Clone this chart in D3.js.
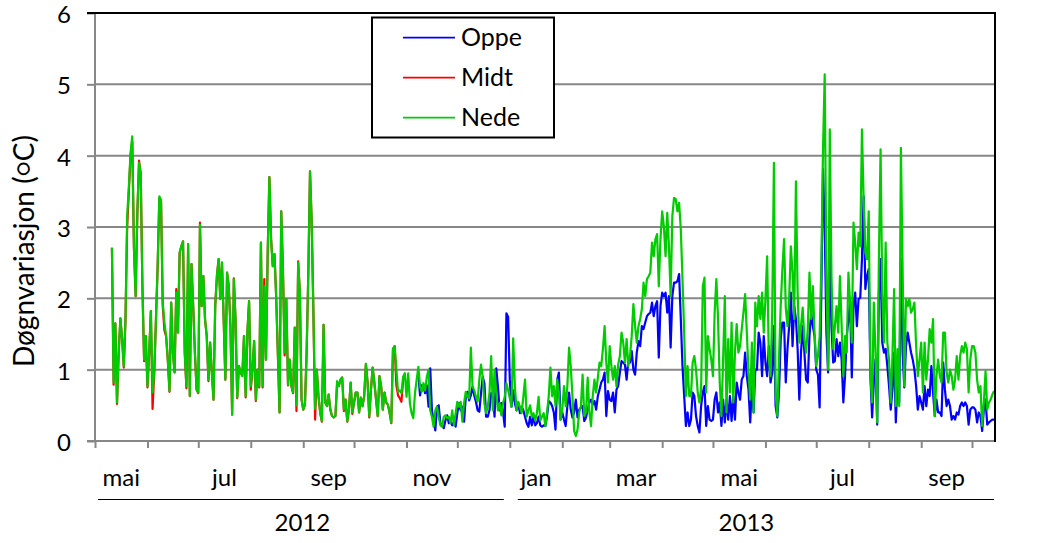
<!DOCTYPE html>
<html><head><meta charset="utf-8">
<script src="https://cdn.jsdelivr.net/npm/d3@7"></script>
<style>
body{margin:0;background:#fff;}
svg{display:block;font-family:Lato, "Open Sans", sans-serif;}
</style>
</head><body>
<svg id="chart" width="1039" height="543"></svg>
<script>
// ---------------- DATA ----------------
const seriesNames = ["Oppe", "Midt", "Nede"];
const yTicks = [0, 1, 2, 3, 4, 5, 6];
const monthLabels = ["mai", "jul", "sep", "nov", "jan", "mar", "mai", "jul", "sep"];
const yearLabels = ["2012", "2013"];
const yTitle = "Døgnvariasjon (";
const nedeStart = "2012-05-11";
const midtStart = "2012-05-11";
const oppeStart = "2012-11-08";

// daily values, Nede (from 2012-05-11)
const nede = [
2.71,0.82,1.65,0.54,1.24,1.72,1.43,1.05,1.7,3.15,
3.57,4.04,4.27,2.73,2.03,3.2,3.9,3.76,2.17,1.14,
1.47,0.77,1.24,1.82,0.68,0.96,1.7,2.45,3.43,3.38,
1.94,1.66,1.47,1.14,0.7,1.94,1.24,0.96,2.08,1.52,
2.64,2.73,2.8,1.24,0.77,2.76,0.63,2.48,1.89,1.24,
0.72,0.68,3.03,1.89,2.31,1.7,1.47,0.86,1.38,0.96,
0.58,1.89,2.31,2.55,1.99,2.5,1.7,0.86,2.36,2.17,
1.61,0.37,2.27,1.7,0.61,1.05,0.96,0.91,1.47,
0.63,1.52,1.96,0.77,1.0,1.4,0.58,1.0,0.77,2.78,
0.77,2.17,1.14,2.64,3.7,2.83,2.45,2.62,2.03,1.24,
0.4,3.22,2.41,1.24,1.99,0.79,1.14,0.77,0.68,1.59,
0.5,2.5,2.08,0.58,0.44,0.51,1.24,2.36,3.78,3.06,
1.8,0.45,1.0,0.63,0.4,0.28,1.63,0.54,0.49,0.65,
0.44,0.35,0.33,0.35,0.84,0.77,0.86,0.89,0.44,0.58,
0.28,0.44,0.82,0.4,0.54,0.68,0.68,0.4,0.61,0.49,
0.63,1.08,0.82,0.35,0.72,1.03,0.82,0.58,0.35,0.91,
0.77,0.44,0.68,0.54,0.51,0.4,0.26,1.29,1.33,
1.0,0.69,0.71,0.67,0.9,0.95,0.62,0.95,0.53,0.39,
0.32,0.67,0.86,1.04,0.76,0.69,0.81,0.71,0.9,1.0,
0.43,0.34,0.2,0.43,0.48,0.34,0.22,0.2,0.34,0.36,
0.32,0.34,0.25,0.43,0.22,0.39,0.55,0.48,0.55,0.27,
0.53,0.69,0.62,0.6,1.31,0.76,0.71,0.62,0.55,0.86,
1.07,0.9,0.53,0.39,0.48,0.67,1.19,0.43,1.0,0.67,
0.43,0.53,0.36,0.53,0.62,0.81,0.71,0.6,0.48,1.44,
0.76,0.43,0.55,0.48,0.39,0.62,0.86,0.34,0.43,0.5,
0.34,0.39,0.29,0.39,0.62,0.29,0.34,0.39,
0.21,0.4,0.63,1.03,0.63,0.77,0.49,0.86,0.68,0.3,
0.44,0.77,0.49,0.77,1.31,1.05,0.63,0.14,0.07,0.16,
0.4,0.49,0.93,0.35,0.4,0.89,0.4,0.21,0.63,0.86,
0.68,0.89,1.1,1.05,1.29,1.61,1.1,0.82,1.33,1.05,
0.86,1.05,0.77,1.07,1.19,1.52,1.38,1.1,1.43,1.05,
1.19,1.47,1.92,1.61,1.38,1.61,1.71,1.85,2.22,2.03,
2.27,2.31,2.36,2.78,2.59,2.83,2.9,2.17,2.83,3.22,
3.01,2.59,3.2,2.73,2.03,3.15,3.41,3.39,3.22,3.34,
2.97,2.27,1.52,0.63,1.05,0.63,0.63,1.1,1.19,
1.0,0.68,0.54,0.72,2.17,2.29,0.68,1.47,1.29,1.14,
0.91,1.8,2.27,1.71,0.82,0.35,1.14,2.03,0.4,1.43,
0.68,1.66,0.54,1.24,1.64,1.24,1.33,1.57,1.8,2.06,
1.52,0.96,0.58,1.38,0.4,1.94,1.61,2.03,1.71,2.08,
1.52,1.99,2.59,1.14,0.91,1.8,3.9,0.68,0.35,1.14,
1.89,2.41,2.83,1.87,1.61,1.99,2.73,2.36,1.71,3.64,
2.08,1.38,1.61,1.87,1.43,1.24,1.57,2.36,1.71,2.17,
1.52,1.05,1.19,1.47,2.45,4.09,5.14,2.31,1.0,4.37,
2.31,1.29,1.61,1.89,1.52,2.31,1.61,0.91,
1.47,1.24,2.36,1.94,1.38,3.06,2.78,2.41,2.92,2.73,
4.37,3.39,2.64,2.55,3.22,0.91,0.54,1.94,1.24,0.26,
2.55,4.09,2.08,1.38,2.78,1.38,1.14,0.54,1.19,2.13,
0.49,1.29,0.49,4.11,2.45,0.77,1.99,1.89,1.99,1.8,
1.85,1.94,1.33,0.91,1.14,1.38,0.68,1.38,0.86,1.14,
1.57,1.38,1.71,0.35,0.91,1.14,0.91,0.82,1.52,1.52,
0.96,0.82,1.0,0.91,0.72,0.86,1.19,0.86,1.19,1.33,
1.24,1.38,1.29,0.68,1.14,1.33,1.33,1.24,0.86,0.68,
0.77,0.21,0.54,0.98,0.44,0.54,0.58,0.65,0.7
];

// daily values, Midt (from 2012-05-11)
const midt = [
2.71,0.79,1.65,0.52,1.24,1.72,1.43,1.03,1.7,3.0,
3.5,4.0,4.2,2.7,2.03,3.18,3.93,3.74,2.17,1.12,
1.47,0.75,1.24,1.82,0.45,0.96,1.7,2.45,3.4,3.36,
1.9,1.55,1.47,1.14,0.69,1.94,1.24,0.96,2.13,1.52,
2.64,2.73,2.8,1.24,0.74,2.76,0.63,2.48,1.89,1.24,
0.72,0.67,3.06,1.89,2.31,1.7,1.47,0.84,1.38,0.96,
0.58,1.89,2.31,2.55,1.99,2.5,1.7,0.86,2.36,2.17,
1.61,0.37,2.28,1.7,0.6,1.05,0.96,0.91,1.47,
0.61,1.52,1.96,0.72,1.0,1.4,0.56,1.0,0.75,2.78,
0.75,2.27,1.14,2.64,3.7,2.83,2.45,2.62,2.03,1.22,
0.4,3.22,2.41,1.2,1.99,0.78,1.14,0.77,0.67,1.59,
0.42,2.52,2.08,0.58,0.44,0.51,1.24,2.36,3.78,3.06,
1.8,0.3,1.0,0.63,0.4,0.27,1.63,0.54,0.49,0.65,
0.44,0.35,0.33,0.35,0.8,0.77,0.86,0.89,0.42,0.58,
0.27,0.44,0.82,0.38,0.54,0.68,0.68,0.4,0.61,0.49,
0.63,1.08,0.82,0.33,0.72,1.03,0.82,0.58,0.35,0.91,
0.77,0.44,0.68,0.54,0.51,0.4,0.25,1.29,1.33,
0.78,0.64,0.6,0.55,0.85,0.9
];

// daily values, Oppe (from 2012-11-08)
const oppe = [
0.93,0.64,0.78,0.76,0.67,0.78,0.48,1.02,0.43,0.29,
0.15,0.48,0.5,0.25,0.22,0.18,0.29,0.36,0.25,0.27,
0.22,0.27,0.2,0.39,0.53,0.43,0.48,0.27,0.62,0.69,
0.57,0.64,0.76,0.64,0.55,0.43,0.41,0.67,0.9,0.81,
0.34,0.34,0.43,0.67,0.64,0.34,1.02,0.76,0.43,0.53,
0.41,0.2,1.79,1.74,0.86,0.48,0.71,0.53,0.43,0.53,
0.39,0.48,0.43,0.34,0.25,0.2,0.34,0.22,0.34,0.22,
0.25,0.34,0.22,0.2,0.22,
0.21,0.35,0.56,0.54,0.49,0.4,0.16,0.86,0.96,0.3,
0.4,0.3,0.21,0.49,0.68,0.44,0.33,0.4,0.58,0.33,
0.44,0.47,0.49,0.28,0.33,0.44,0.54,0.58,0.51,0.56,
0.44,0.63,0.72,0.82,0.86,0.96,0.35,0.7,0.58,0.56,
0.68,0.4,0.72,0.77,0.96,1.12,1.1,1.07,0.86,1.12,
1.1,1.26,1.0,0.93,1.24,1.4,1.33,1.61,1.57,1.66,
1.75,1.78,1.8,1.94,1.75,1.89,1.96,1.17,1.89,2.08,
2.03,2.08,1.8,2.03,1.31,2.03,2.22,2.22,2.24,2.34,
1.71,1.05,0.63,0.21,0.4,0.21,0.3,0.68,0.63,
0.35,0.21,0.12,0.49,0.68,0.77,0.21,0.49,0.3,0.28,
0.3,0.58,0.68,0.4,0.54,0.21,0.58,0.26,0.58,0.3,
0.63,0.28,0.63,0.3,0.82,0.68,0.58,0.86,0.91,1.24,
0.91,0.72,0.26,0.77,0.4,1.0,1.0,1.52,1.38,0.91,
1.47,1.1,0.91,1.33,0.82,0.96,1.61,0.49,0.33,0.68,
1.43,1.66,1.66,0.82,1.29,1.61,2.08,1.33,1.89,1.71,
1.29,0.58,1.24,1.61,1.24,0.86,0.82,1.47,1.8,1.61,
1.47,1.0,0.93,0.47,2.08,3.81,3.01,1.52,0.96,2.69,
1.61,1.1,1.12,1.43,1.19,1.38,1.14,0.54,
0.91,1.47,1.71,1.94,0.89,1.89,2.08,1.61,1.99,2.01,
2.55,3.43,2.13,2.31,2.41,0.91,0.33,0.82,1.14,0.23,
2.08,2.55,1.38,1.24,1.29,1.05,0.77,0.44,0.72,1.24,
0.26,0.86,0.54,2.55,1.24,0.75,1.33,1.52,1.38,1.24,
1.14,1.0,0.77,0.44,0.63,0.54,0.44,0.77,0.49,0.72,
0.63,1.05,0.68,0.35,0.58,0.4,0.4,0.35,1.1,0.72,
0.49,0.58,0.49,0.3,0.35,0.3,0.4,0.37,0.49,0.54,
0.49,0.54,0.49,0.23,0.44,0.47,0.47,0.44,0.26,0.4,
0.35,0.14,0.44,0.58,0.23,0.26,0.28,0.3,0.3
];

const seriesColors = ["#0000FF", "#FF0000", "#00CC00"];

// ---------------- LAYOUT ----------------
const L = 95, R = 995, T = 13, B = 441;
const DAY = 864e5;
const parse = d3.utcParse("%Y-%m-%d");
const axisStart = Date.UTC(2012, 4, 1);
const axisEnd = Date.UTC(2013, 9, 14, 14);

const svg = d3.select("#chart");
const x = d3.scaleUtc().domain([new Date(axisStart), new Date(axisEnd)]).range([L, R]);
const y = d3.scaleLinear().domain([0, 6]).range([B, T]);

const GRID = "#878787";

// gridlines
svg.append("g").selectAll("line").data(yTicks.filter(v => v > 0 && v < 6)).join("line")
  .attr("x1", L).attr("x2", R).attr("y1", d => y(d)).attr("y2", d => y(d))
  .attr("stroke", GRID).attr("stroke-width", 2);

// y axis
const gy = svg.append("g").attr("transform", `translate(${L},0)`)
  .call(d3.axisLeft(y).tickValues(yTicks).tickSize(8).tickPadding(16).tickFormat(d3.format("d")));
gy.select(".domain").remove();
gy.selectAll(".tick line").attr("stroke", GRID).attr("stroke-width", 2);
gy.selectAll(".tick text").attr("font-size", 24).attr("fill", "#000").attr("font-family", "Lato")
  .attr("dy", null).attr("dominant-baseline", "central");
svg.append("line").attr("x1", L).attr("x2", L).attr("y1", y(6)).attr("y2", y(0)+1)
  .attr("stroke", GRID).attr("stroke-width", 2);

// x axis (month ticks)
const monthTicks = d3.utcMonth.range(new Date(axisStart), new Date(axisEnd));
const gx = svg.append("g").attr("transform", `translate(0,${B})`)
  .call(d3.axisBottom(x).tickValues(monthTicks).tickSize(7).tickFormat(""));
gx.select(".domain").remove();
gx.selectAll(".tick line").attr("stroke", GRID).attr("stroke-width", 2);
svg.append("line").attr("x1", L - 8).attr("x2", R).attr("y1", B).attr("y2", B)
  .attr("stroke", GRID).attr("stroke-width", 2);

// month labels centred between every other pair of ticks
monthLabels.forEach((lab, i) => {
  const a = monthTicks[2 * i], b = monthTicks[2 * i + 1];
  svg.append("text").attr("x", (x(a) + x(b)) / 2).attr("y", 486)
    .attr("text-anchor", "middle").attr("font-size", 24).text(lab);
});

// year brackets
const jan13 = new Date(Date.UTC(2013, 0, 1));
const yearSpans = [[x(new Date(axisStart)) + 3, x(jan13) - 6], [x(jan13) + 8, R - 1]];
yearSpans.forEach((s, i) => {
  svg.append("line").attr("x1", s[0]).attr("x2", s[1]).attr("y1", 499.5).attr("y2", 499.5)
    .attr("stroke", "#000").attr("stroke-width", 1.2);
});
svg.append("text").attr("x", (x(new Date(axisStart)) + x(jan13)) / 2).attr("y", 531)
  .attr("text-anchor", "middle").attr("font-size", 24).text(yearLabels[0]);
svg.append("text").attr("x", (x(jan13) + R) / 2 - 6).attr("y", 531)
  .attr("text-anchor", "middle").attr("font-size", 24).text(yearLabels[1]);

// y title
const yt = svg.append("text").attr("transform", `translate(33.5,${(T + B) / 2 + 24}) rotate(-90)`)
  .attr("text-anchor", "middle").attr("font-size", 28);
yt.append("tspan").text(yTitle);
yt.append("tspan").attr("font-size", 23).attr("dy", -3).text("○");
yt.append("tspan").attr("dy", 3).text("C)");

// data lines
const starts = [oppeStart, midtStart, nedeStart].map(s => parse(s).getTime());
const values = [oppe, midt, nede];
values.forEach((vals, k) => {
  const line = d3.line()
    .x((d, i) => x(new Date(starts[k] + i * DAY)))
    .y(d => y(d));
  svg.append("path").datum(vals).attr("d", line)
    .attr("fill", "none").attr("stroke", seriesColors[k])
    .attr("stroke-width", 2.2).attr("stroke-linejoin", "round");
});

// plot border top / right
svg.append("line").attr("x1", L - 8).attr("x2", R + 1).attr("y1", T).attr("y2", T)
  .attr("stroke", "#000").attr("stroke-width", 2);
svg.append("line").attr("x1", R).attr("x2", R).attr("y1", T).attr("y2", B + 1)
  .attr("stroke", "#000").attr("stroke-width", 2);

// legend
const lg = svg.append("g");
lg.append("rect").attr("x", 372).attr("y", 17.5).attr("width", 182).attr("height", 120)
  .attr("fill", "#fff").attr("stroke", "#000").attr("stroke-width", 2);
seriesNames.forEach((n, i) => {
  const cy = 37.7 + i * 40;
  lg.append("line").attr("x1", 403).attr("x2", 455).attr("y1", cy).attr("y2", cy)
    .attr("stroke", seriesColors[i]).attr("stroke-width", 1.7);
  lg.append("text").attr("x", 461).attr("y", cy).attr("dy", "0.35em")
    .attr("font-size", 25).text(n);
});
</script>
</body></html>
